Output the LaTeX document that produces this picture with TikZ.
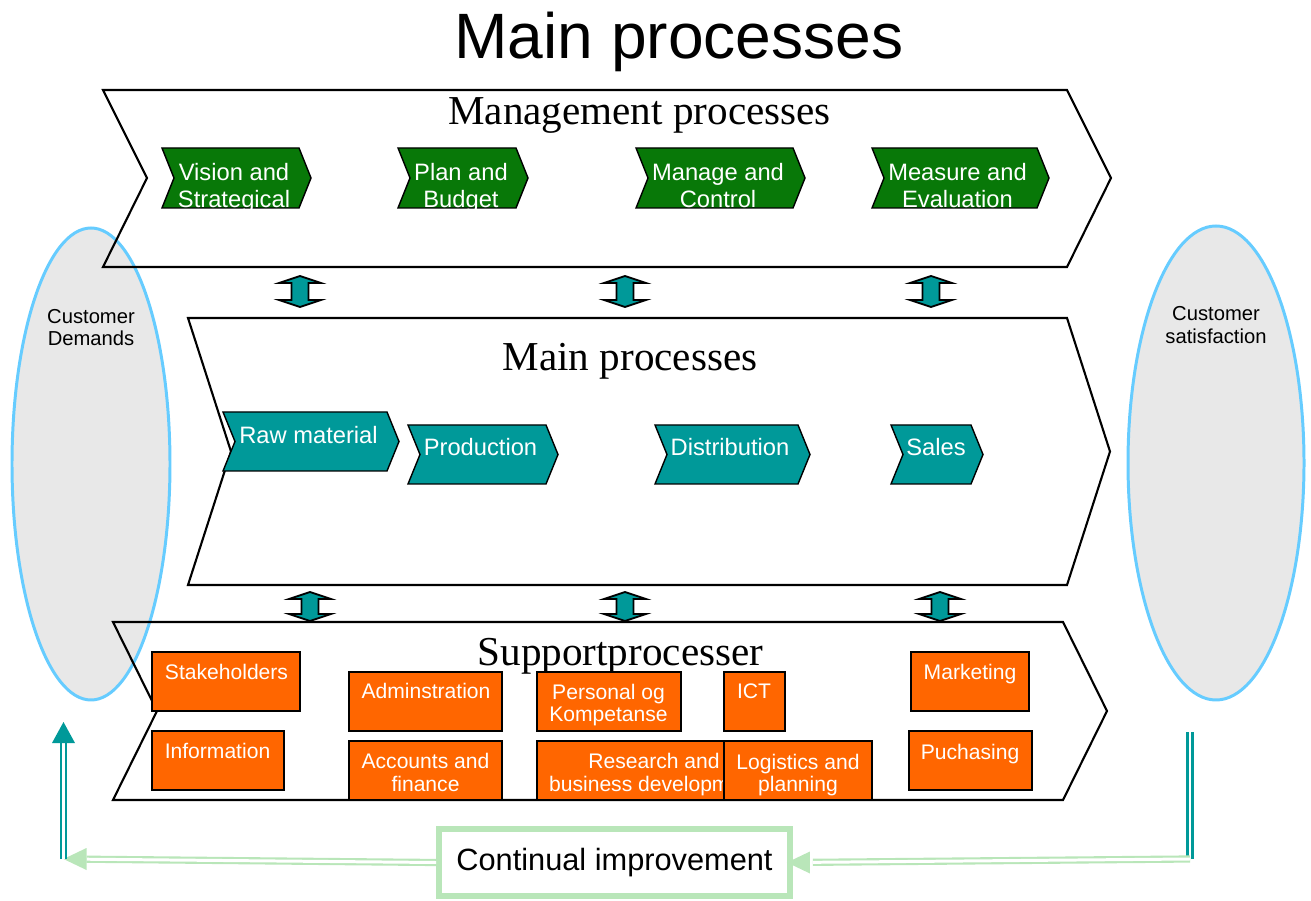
\documentclass[tikz,border=0pt]{standalone}
\usepackage{fontspec}
\setmainfont{Liberation Sans}
\newfontfamily\timesfont{Liberation Serif}
\usetikzlibrary{arrows.meta}

\definecolor{mgreen}{RGB}{8,120,8}
\definecolor{mteal}{RGB}{0,153,153}
\definecolor{sorange}{RGB}{255,102,0}
\definecolor{cblue}{RGB}{102,204,255}
\definecolor{cgray}{RGB}{232,232,232}
\definecolor{lgreen}{RGB}{185,230,185}

\newcommand\chev[7]{\draw[#1] (#2,#4) -- (#3,#4) -- ({#3+#7},#5) -- (#3,#6) -- (#2,#6) -- ({#2+#7},#5) -- cycle;}
\newcommand\updn[3]{\draw[updn] (#1,#2) -- ({#1+21},{#2+7}) -- ({#1+8.5},{#2+7}) -- ({#1+8.5},{#3-7}) -- ({#1+21},{#3-7}) -- (#1,#3) -- ({#1-21},{#3-7}) -- ({#1-8.5},{#3-7}) -- ({#1-8.5},{#2+7}) -- ({#1-21},{#2+7}) -- cycle;}

\tikzset{
  band/.style={draw=black, line width=1.2pt},
  mgmtbox/.style={fill=mgreen, draw=black, line width=0.8pt},
  mainbox/.style={fill=mteal, draw=black, line width=0.8pt},
  sbox/.style={fill=sorange, draw=black, line width=1.2pt},
  updn/.style={fill=mteal, draw=black, line width=1pt},
  cust/.style={fill=cgray, draw=cblue, line width=1.7pt},
  wtext/.style={text=white, font=\fontsize{13.5}{15.3}\selectfont, align=center, inner sep=0pt},
  otext/.style={text=white, font=\fontsize{12}{13}\selectfont, align=center, inner sep=0pt},
  btitle/.style={font=\timesfont\fontsize{23.4}{28}\selectfont, anchor=base, inner sep=0pt},
  ctext/.style={font=\fontsize{11.5}{13}\selectfont, align=center, inner sep=0pt},
  cibox/.style={draw=lgreen, line width=3.4pt, minimum width=7.02cm, minimum height=1.34cm, font=\fontsize{17.5}{20}\selectfont},
  gline/.style={draw=lgreen, double=white, line width=1.2pt, double distance=1.7pt},
  tline/.style={draw=mteal, double=white, line width=1.3pt, double distance=1.6pt}
}

\begin{document}
\begin{tikzpicture}[x=0.02cm, y=-0.02cm]
  \useasboundingbox (0,0) rectangle (1311,901);

  \draw[cust] (91,464) ellipse (79 and 236);
  \draw[cust] (1216,463) ellipse (88 and 237);
  \node[ctext] (demands) at (91,327.5) {Customer\\Demands};
  \node[ctext] (satisf) at (1216,325) {Customer\\satisfaction};

  \node[font=\fontsize{36.5}{40}\selectfont, anchor=base, inner sep=0pt] (title) at (679,59) {Main processes};

  \chev{band}{103}{1067}{90}{178}{267}{44}
  \chev{band}{188}{1067}{318}{451.5}{585}{43}
  \chev{band}{113}{1063}{622}{711}{800}{44}
  \node[btitle] (mgmt) at (639.5,125) {Management processes};
  \node[btitle] (mainp) at (630,371) {Main processes};
  \node[btitle] (supp) at (620.5,665) {Supportprocesser};

  \chev{mgmtbox}{162}{299}{148}{178}{208}{12}
  \chev{mgmtbox}{398}{516}{148}{178}{208}{12}
  \chev{mgmtbox}{636}{793}{148}{178}{208}{12}
  \chev{mgmtbox}{872}{1037}{148}{178}{208}{12}
  \node[wtext] (vision) at (234,188) {Vision and\\Strategical};
  \node[wtext] (plan) at (461,188) {Plan and\\Budget};
  \node[wtext] (manage) at (718,185.5) {Manage and\\Control};
  \node[wtext] (measure) at (957.5,185.5) {Measure and\\Evaluation};

  \chev{mainbox}{223}{387}{412}{441.5}{471}{12}
  \chev{mainbox}{408}{546}{425}{454.5}{484}{12}
  \chev{mainbox}{655}{798}{425}{454.5}{484}{12}
  \chev{mainbox}{891}{971}{425}{454.5}{484}{12}
  \node[wtext] (raw) at (308.5,435) {Raw material};
  \node[wtext] (prod) at (480.5,447) {Production};
  \node[wtext] (dist) at (730,447) {Distribution};
  \node[wtext] (sales) at (936,447) {Sales};

  \updn{300}{276}{307}
  \updn{625}{276}{307}
  \updn{931}{276}{307}
  \updn{310}{592}{621}
  \updn{625}{592}{621}
  \updn{940}{592}{621}

  \draw[sbox] (152,652) rectangle (300,711);
  \draw[sbox] (152,731) rectangle (284,790);
  \draw[sbox] (349,672) rectangle (502,731);
  \draw[sbox] (349,741) rectangle (502,800);
  \draw[sbox] (537,672) rectangle (681,731);
  \draw[sbox] (724,672) rectangle (785,731);
  \draw[sbox] (911,652) rectangle (1029,711);
  \draw[sbox] (909,731) rectangle (1032,790);
  \node[otext, anchor=base] (stake) at (226.5,679.6) {Stakeholders};
  \node[otext, anchor=base] (info) at (217.5,758.6) {Information};
  \node[otext, anchor=base] (admin) at (426,698.6) {Adminstration};
  \node[otext] (accounts) at (425.5,772.5) {Accounts and\\finance};
  \node[otext] (personal) at (608.5,705) {Personal og\\Kompetanse};
  \node[otext, anchor=base] (ict) at (754,698.6) {ICT};
  \node[otext, anchor=base] (marketing) at (970,679.6) {Marketing};
  \node[otext, anchor=base] (purchasing) at (970,759.6) {Puchasing};
  \draw[sbox] (537,741) rectangle (771,800);
  \node[otext] (research) at (654,774.7) {Research and\\business development};
  \draw[sbox] (724,741) rectangle (872,800);
  \node[otext] (logistics) at (798,775) {Logistics and\\planning};

  \node[cibox] (ci) at (614.5,862.5) {Continual improvement};
  \coordinate (sfoot) at (1190,859);
  \coordinate (stop) at (1190,732);
  \coordinate (dfoot) at (63.5,859);
  \coordinate (dtip) at (63.5,722);
  \draw[tline] (stop) -- (sfoot);
  \draw[gline, shorten >=0.4cm] (sfoot) -- (ci.east);
  \fill[lgreen] ([xshift=-0.12cm]ci.east) -- ++(23,-11) -- ++(0,22) -- cycle;
  \draw[gline, shorten >=0.46cm] (ci.west) -- (dfoot);
  \fill[lgreen] (dfoot) -- ++(23,-11) -- ++(0,22) -- cycle;
  \draw[tline, shorten >=0.42cm] (dfoot) -- (dtip);
  \fill[mteal] (dtip) -- ++(-11.5,21) -- ++(23,0) -- cycle;
\end{tikzpicture}
\end{document}
